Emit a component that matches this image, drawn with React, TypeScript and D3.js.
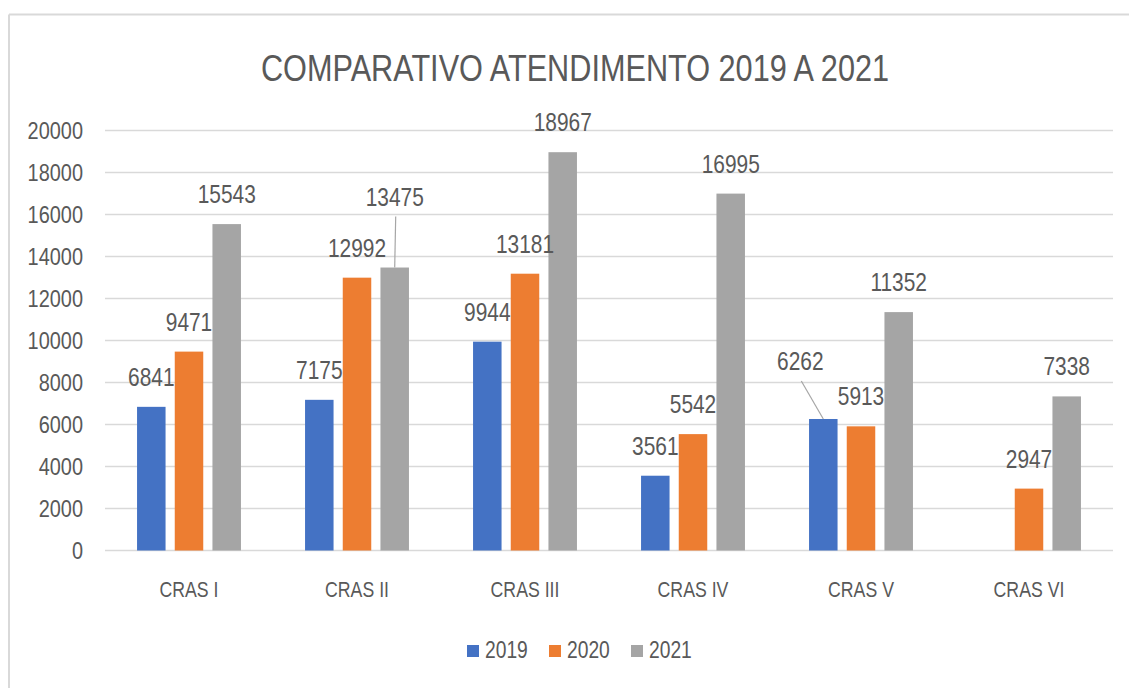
import React from 'react';
import * as d3 from 'd3';

const categories = ['CRAS I', 'CRAS II', 'CRAS III', 'CRAS IV', 'CRAS V', 'CRAS VI'];
const seriesNames = ['2019', '2020', '2021'];
const values2019: (number | null)[] = [6841, 7175, 9944, 3561, 6262, null];
const values2020: (number | null)[] = [9471, 12992, 13181, 5542, 5913, 2947];
const values2021: (number | null)[] = [15543, 13475, 18967, 16995, 11352, 7338];
const yTicks = [0, 2000, 4000, 6000, 8000, 10000, 12000, 14000, 16000, 18000, 20000];
const seriesColors = ['#4472C4', '#ED7D31', '#A5A5A5'];
const title = 'COMPARATIVO ATENDIMENTO 2019 A 2021';
// data labels that were dragged away from their bar in the original (with a leader line)
const movedLabels = [
  { series: 2, category: 1, dx: 0, dy: -41 },
  { series: 0, category: 4, dx: -23, dy: -28 },
];

const W = 1129;
const H = 688;
const FONT = "'Liberation Sans', Arial, sans-serif";
const NARROW = 0.82;
const TEXT = '#595959';
const GRID = '#D9D9D9';

function NText(props: {
  x: number;
  y: number;
  size: number;
  anchor?: 'start' | 'middle' | 'end';
  dy?: string;
  children: React.ReactNode;
}) {
  return (
    <text
      transform={`translate(${props.x},${props.y}) scale(${NARROW},1)`}
      dy={props.dy}
      textAnchor={props.anchor || 'start'}
      fontSize={props.size}
      fill={TEXT}
      fontFamily={FONT}
    >
      {props.children}
    </text>
  );
}

export default function App() {
  const seriesValues = [values2019, values2020, values2021];
  const x0 = d3.scaleBand<string>().domain(categories).range([105, 1113]).paddingInner(0).paddingOuter(0);
  const x1 = d3
    .scaleBand<string>()
    .domain(seriesNames)
    .range([0, x0.bandwidth()])
    .paddingInner(0.244)
    .paddingOuter(0.85);
  const y = d3.scaleLinear().domain([0, 20000]).range([550.5, 130.5]);

  const bars: any[] = [];
  seriesValues.forEach((vals, si) => {
    vals.forEach((v, ci) => {
      if (v == null) return;
      const bx = (x0(categories[ci]) as number) + (x1(seriesNames[si]) as number);
      bars.push({ si, ci, v, x: bx, w: x1.bandwidth(), y: y(v), h: y(0) - y(v) });
    });
  });

  const legendStartX = 467;
  const legendStep = 82;

  return (
    <svg width={W} height={H} style={{ position: 'absolute', left: 0, top: 0, background: '#fff' }}>
      <rect x={0} y={0} width={W} height={H} fill="#fff" />
      {/* chart border */}
      <line x1={9} x2={W} y1={14.5} y2={14.5} stroke={GRID} strokeWidth={2} />
      <line x1={9} x2={9} y1={14.5} y2={H} stroke={GRID} strokeWidth={2} />

      <NText x={575} y={81} size={37.4} anchor="middle">
        {title}
      </NText>

      {/* gridlines + y tick labels */}
      {yTicks.map((t) => (
        <g key={t}>
          <line x1={105} x2={1113} y1={y(t)} y2={y(t)} stroke={GRID} strokeWidth={1.6} />
          <NText x={83} y={y(t)} dy="0.36em" anchor="end" size={24.3}>
            {t}
          </NText>
        </g>
      ))}

      {/* bars */}
      {bars.map((b) => (
        <rect key={`${b.si}-${b.ci}`} x={b.x} y={b.y} width={b.w} height={b.h} fill={seriesColors[b.si]} />
      ))}

      {/* data labels */}
      {bars.map((b) => {
        const mv = movedLabels.find((m) => m.series === b.si && m.category === b.ci);
        const cx = b.x + b.w / 2;
        const lx = cx + (mv ? mv.dx : 0);
        const ly = b.y - 21 + (mv ? mv.dy : 0);
        return (
          <g key={`l-${b.si}-${b.ci}`}>
            {mv && <line x1={lx + 1} y1={ly + 11} x2={cx} y2={b.y} stroke="#A6A6A6" strokeWidth={1.2} />}
            <NText x={lx} y={ly} size={25.5} anchor="middle">
              {b.v}
            </NText>
          </g>
        );
      })}

      {/* category labels */}
      {categories.map((c) => (
        <NText key={c} x={(x0(c) as number) + x0.bandwidth() / 2} y={597} size={21.6} anchor="middle">
          {c}
        </NText>
      ))}

      {/* legend */}
      {seriesNames.map((s, i) => (
        <g key={s}>
          <rect x={legendStartX + i * legendStep} y={645} width={12} height={12} fill={seriesColors[i]} />
          <NText x={legendStartX + i * legendStep + 18} y={658} size={23.5}>
            {s}
          </NText>
        </g>
      ))}
    </svg>
  );
}
